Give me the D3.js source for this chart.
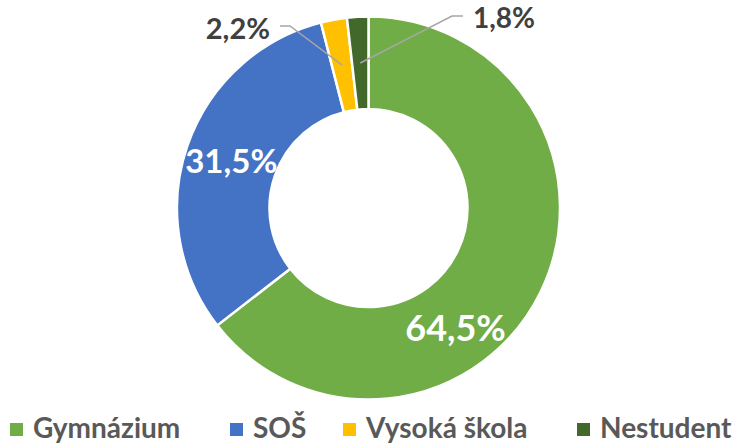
<!DOCTYPE html>
<html>
<head>
<meta charset="utf-8">
<script src="https://cdn.jsdelivr.net/npm/d3@7"></script>
<style>
  body { margin: 0; background: #fff; }
  svg { display: block; font-family: Lato, "Open Sans", sans-serif; font-weight: bold; }
</style>
</head>
<body>
<svg></svg>
<script>
const categories = ['Gymnázium', 'SOŠ', 'Vysoká škola', 'Nestudent'];
const shares = [64.5, 31.5, 2.2, 1.8];
const colors = ['#70ad47', '#4472c4', '#ffc000', '#43682b'];

const size = {w: 743, h: 444};
const center = {x: 368.5, y: 208};
const rOuter = 191.5, rInner = 99;

const svg = d3.select('svg')
    .attr('width', size.w)
    .attr('height', size.h);

const g = svg.append('g')
    .attr('transform', `translate(${center.x}, ${center.y})`);

const data = categories.map((c, i) => ({name: c, value: shares[i], color: colors[i]}));

const pie = d3.pie().sort(null).value(d => d.value);
const arcs = pie(data);

const arc = d3.arc().innerRadius(rInner).outerRadius(rOuter);

g.selectAll('path.slice')
    .data(arcs)
    .enter()
    .append('path')
        .attr('class', 'slice')
        .attr('d', arc)
        .attr('fill', d => d.data.color)
        .attr('stroke', '#fff')
        .attr('stroke-width', 2.5);

const fmt = v => d3.format('.1f')(v).replace('.', ',') + '%';
const midR = (rInner + rOuter) / 2;

// point on ring at a fraction of the slice's angle span
function ringPoint(a, frac, r) {
    const ang = a.startAngle + (a.endAngle - a.startAngle) * frac;
    return [Math.sin(ang) * r, -Math.cos(ang) * r];
}

// big slices: white labels inside
const inside = [
    {i: 0, frac: 0.62, r: 148, size: 36},
    {i: 1, frac: 0.5, r: 145, size: 33}
];
inside.forEach(l => {
    const p = ringPoint(arcs[l.i], l.frac, l.r);
    g.append('text')
        .attr('x', p[0])
        .attr('y', p[1])
        .attr('text-anchor', 'middle')
        .attr('dy', '0.36em')
        .attr('fill', '#fff')
        .style('font-size', l.size + 'px')
        .text(fmt(shares[l.i]));
});

// small slices: outside labels with leader lines
const outside = [
    {i: 2, elbow: [290, 26], end: [280, 26], anchor: 'end', tx: 270, ty: 39, size: 29},
    {i: 3, elbow: [452, 16], end: [463, 16], anchor: 'start', tx: 473, ty: 28, size: 28}
];
outside.forEach(l => {
    const p = ringPoint(arcs[l.i], 0.5, midR);
    const pts = [
        [p[0] + center.x, p[1] + center.y],
        l.elbow,
        l.end
    ];
    svg.append('path')
        .attr('d', d3.line()(pts))
        .attr('fill', 'none')
        .attr('stroke', '#a6a6a6')
        .attr('stroke-width', 1.5);
    svg.append('text')
        .attr('x', l.tx)
        .attr('y', l.ty)
        .attr('text-anchor', l.anchor)
        .attr('fill', '#404040')
        .style('font-size', l.size + 'px')
        .text(fmt(shares[l.i]));
});

// legend
const legendX = [10, 230, 343, 577];
const legend = svg.append('g').attr('class', 'legend');
categories.forEach((c, i) => {
    const item = legend.append('g')
        .attr('transform', `translate(${legendX[i]}, 423)`);
    item.append('rect')
        .attr('width', 13)
        .attr('height', 13)
        .attr('fill', colors[i]);
    item.append('text')
        .attr('x', 23)
        .attr('y', 15)
        .attr('fill', '#595959')
        .style('font-size', '28px')
        .text(c);
});
</script>
</body>
</html>
